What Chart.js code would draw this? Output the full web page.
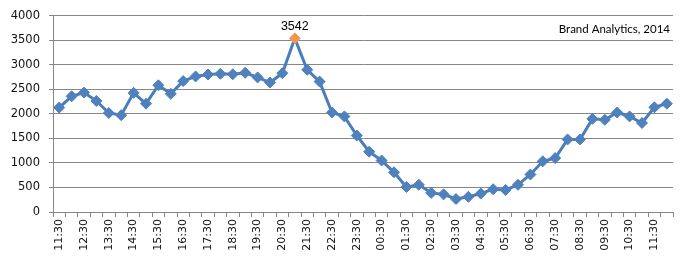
<!DOCTYPE html>
<html>
<head>
<meta charset="utf-8">
<script src="https://cdn.jsdelivr.net/npm/chart.js@4"></script>
<style>
  html, body { margin: 0; padding: 0; background: #fff; }
  #wrap { width: 686px; height: 263px; }
</style>
</head>
<body>
<div id="wrap"><canvas id="trafficChart" width="686" height="263"></canvas></div>
<script>
// half-hour slots, 11:30 to 12:00 next day
const timeLabels = [
  "11:30", "12:00", "12:30", "13:00", "13:30", "14:00", "14:30", "15:00", "15:30", "16:00",
  "16:30", "17:00", "17:30", "18:00", "18:30", "19:00", "19:30", "20:00", "20:30", "21:00",
  "21:30", "22:00", "22:30", "23:00", "23:30", "00:00", "00:30", "01:00", "01:30", "02:00",
  "02:30", "03:00", "03:30", "04:00", "04:30", "05:00", "05:30", "06:00", "06:30", "07:00",
  "07:30", "08:00", "08:30", "09:00", "09:30", "10:00", "10:30", "11:00", "11:30", "12:00"
];
const mentions = [
  2130, 2360, 2435, 2265, 2020, 1975, 2430, 2210, 2585, 2410,
  2670, 2765, 2805, 2820, 2810, 2840, 2745, 2640, 2830, 3542,
  2900, 2660, 2030, 1950, 1560, 1230, 1050, 810, 510, 555,
  390, 360, 265, 310, 375, 465, 450, 555, 765, 1035,
  1100, 1480, 1480, 1900, 1880, 2030, 1950, 1815, 2135, 2210
];
const yTicks = { min: 0, max: 4000, step: 500 };
const sourceNote = "Brand Analytics, 2014";

const peakIndex = mentions.indexOf(Math.max(...mentions));
const blue = "#4F81BD";
const orange = "#F79646";
const gridGray = "#878787";

Chart.defaults.font.family = "DejaVu Sans";

// value label over the peak + source note in the corner
const annotations = {
  id: "annotations",
  afterDatasetsDraw(chart) {
    const ctx = chart.ctx;
    const pt = chart.getDatasetMeta(0).data[peakIndex];
    ctx.save();
    ctx.fillStyle = "#000";
    ctx.font = "12.5px 'Liberation Sans'";
    ctx.textAlign = "center";
    ctx.textBaseline = "bottom";
    ctx.fillText(String(mentions[peakIndex]), pt.x, pt.y - 6);
    ctx.font = "11.5px Lato";
    ctx.textAlign = "right";
    ctx.textBaseline = "middle";
    ctx.fillText(sourceNote, chart.chartArea.right - 3, 29);
    ctx.restore();
  }
};

window.addEventListener("DOMContentLoaded", () => {
  new Chart(document.getElementById("trafficChart"), {
    type: "line",
    data: {
      labels: timeLabels,
      datasets: [{
        data: mentions,
        borderColor: "#4A7EBB",
        borderWidth: 3,
        tension: 0,
        pointStyle: "rectRot",
        pointRadius: 5.5,
        pointBorderWidth: 1,
        pointBackgroundColor: (c) => c.dataIndex === peakIndex ? orange : blue,
        pointBorderColor: (c) => c.dataIndex === peakIndex ? "#E8A070" : blue
      }]
    },
    options: {
      responsive: false,
      animation: false,
      layout: { padding: { top: 13, right: 13, left: 0, bottom: 0 } },
      plugins: { legend: { display: false }, tooltip: { enabled: false } },
      scales: {
        x: {
          type: "category",
          offset: true,
          afterFit: (s) => { s.height = 51; },
          grid: { offset: true, drawOnChartArea: false, drawTicks: true, tickLength: 5, color: gridGray },
          border: { display: true, color: gridGray },
          ticks: {
            autoSkip: false,
            minRotation: 90,
            maxRotation: 90,
            padding: 2,
            color: "#111",
            font: { family: "DejaVu Sans", size: 11 },
            callback: (v, i) => i % 2 === 0 ? timeLabels[i] : ""
          }
        },
        y: {
          min: yTicks.min,
          max: yTicks.max,
          afterFit: (s) => { s.width = 53; },
          grid: { color: gridGray, drawTicks: true, tickLength: 4 },
          border: { display: true, color: gridGray },
          ticks: {
            stepSize: yTicks.step,
            padding: 9,
            color: "#111",
            font: { family: "DejaVu Sans", size: 11.5 },
            callback: (v) => String(v)
          }
        }
      }
    },
    plugins: [annotations]
  });
});
</script>
</body>
</html>
